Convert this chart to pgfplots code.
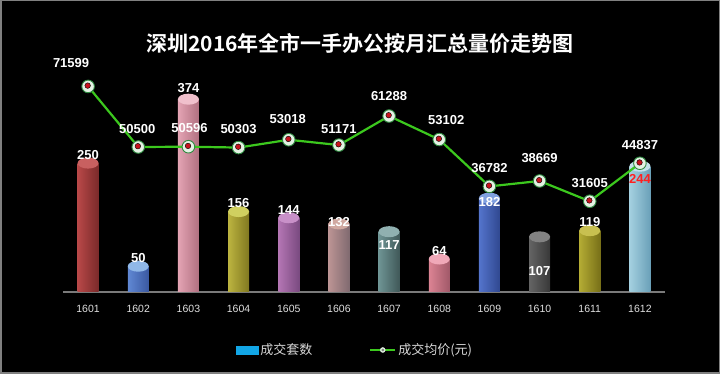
\documentclass[border=0pt]{standalone}
\usepackage{pgfplots}
\pgfplotsset{compat=1.18}
\usepackage{pgfplotstable}
\usepackage{fontspec}
\setmainfont{Liberation Sans}
\newfontfamily\cjk{Noto Sans CJK SC}
\newfontfamily\cjkb{Noto Sans CJK SC Bold}

\definecolor{bordergray}{HTML}{808080}
\definecolor{basegray}{HTML}{7A7A7A}
\definecolor{tickgray}{HTML}{E0E0E0}
\definecolor{leggray}{HTML}{D8D8D8}
\definecolor{legblue}{HTML}{12A6E6}
\definecolor{linegreen}{HTML}{3CC81E}
\definecolor{markedge}{HTML}{2E8A40}
\definecolor{markfill}{HTML}{E4F2E4}
\definecolor{markred}{HTML}{C8141E}
\definecolor{labred}{HTML}{FF2020}

% bar colours: light (left), dark (right), cap
\definecolor{aA}{HTML}{B84848}\definecolor{aB}{HTML}{7A2A2A}\definecolor{aC}{HTML}{C86060}
\definecolor{bA}{HTML}{6088D4}\definecolor{bB}{HTML}{3A58A0}\definecolor{bC}{HTML}{90B8E8}
\definecolor{cA}{HTML}{E4A4B4}\definecolor{cB}{HTML}{B07080}\definecolor{cC}{HTML}{F0C0CC}
\definecolor{dA}{HTML}{BCB440}\definecolor{dB}{HTML}{807820}\definecolor{dC}{HTML}{D0D060}
\definecolor{eA}{HTML}{B476B4}\definecolor{eB}{HTML}{7A4A80}\definecolor{eC}{HTML}{C890C8}
\definecolor{fA}{HTML}{BC9494}\definecolor{fB}{HTML}{806A70}\definecolor{fC}{HTML}{D0A8A0}
\definecolor{gA}{HTML}{6E9494}\definecolor{gB}{HTML}{405858}\definecolor{gC}{HTML}{90B0B0}
\definecolor{hA}{HTML}{DC8494}\definecolor{hB}{HTML}{A05868}\definecolor{hC}{HTML}{F0A8B8}
\definecolor{iA}{HTML}{5474CC}\definecolor{iB}{HTML}{304890}\definecolor{iC}{HTML}{80A0E0}
\definecolor{jA}{HTML}{646464}\definecolor{jB}{HTML}{383838}\definecolor{jC}{HTML}{828282}
\definecolor{kA}{HTML}{B4AC34}\definecolor{kB}{HTML}{787018}\definecolor{kC}{HTML}{C8C050}
\definecolor{lA}{HTML}{A4D0E0}\definecolor{lB}{HTML}{6AA0B8}\definecolor{lC}{HTML}{C4E2EC}

\pgfdeclareplotmark{cap}{%
  \pgfpathellipse{\pgfpointorigin}{\pgfqpoint{10.5pt}{0pt}}{\pgfqpoint{0pt}{5.5pt}}%
  \pgfusepathqfill}

\pgfplotsset{
  cyl/.style n args={3}{ybar, bar width=21pt, bar shift=0pt, draw=none,
    left color=#1, right color=#2,
    mark=cap, mark options={fill=#3, draw=none},
    nodes near coords,
    /pgf/number format/assume math mode=true,
    every node near coord/.append style={font=\bfseries\fontsize{13}{13}\selectfont, text=white}},
}

\newcommand{\cylbar}[6]{%
  \addplot[cyl={#3}{#4}{#5}, every node near coord/.append style={yshift=#6pt}] coordinates {(#1,#2)};}

\pgfplotstableread{
x y dx dy lab
1 71599 -17 5 71599
2 50500 -1 0 50500
3 50596 1 0 50596
4 50303 0 0 50303
5 53018 -1 2 53018
6 51171 0 -2 51171
7 61288 0 2 61288
8 53102 7 1 53102
9 36782 0 0 36782
10 38669 0 5 38669
11 31605 0 0 31605
12 44837 0 0 44837
}\pricetable

\begin{document}
\begin{tikzpicture}
\fill[black] (0pt,0pt) rectangle (720pt,374pt);
\draw[bordergray, line width=1.5pt] (0.75pt,0.75pt) rectangle (719.25pt,373.25pt);
\useasboundingbox (0pt,0pt) rectangle (720pt,374pt);

\node[text=white, font=\cjkb\fontsize{21}{21}\selectfont] at (360pt,331pt) {深圳2016年全市一手办公按月汇总量价走势图};

\begin{axis}[
  at={(63pt,82pt)}, anchor=south west, scale only axis,
  width=602pt, height=232pt,
  xmin=0.5, xmax=12.5, ymin=0, ymax=450,
  axis x line*=bottom, axis y line=none,
  x axis line style={draw=basegray, line width=1.2pt, -},
  xtick={1,...,12},
  xticklabels={1601,1602,1603,1604,1605,1606,1607,1608,1609,1610,1611,1612},
  major tick length=0pt,
  xticklabel style={font=\fontsize{10.5}{12}\selectfont, text=tickgray, yshift=-10pt},
  clip=false,
]
\cylbar{1}{250}{aA}{aB}{aC}{0}
\cylbar{2}{50}{bA}{bB}{bC}{0}
\cylbar{3}{374}{cA}{cB}{cC}{3}
\cylbar{4}{156}{dA}{dB}{dC}{0}
\cylbar{5}{144}{eA}{eB}{eC}{0}
\cylbar{6}{132}{fA}{fB}{fC}{-6}
\cylbar{7}{117}{gA}{gB}{gC}{-21}
\cylbar{8}{64}{hA}{hB}{hC}{0}
\cylbar{9}{182}{iA}{iB}{iC}{-12}
\cylbar{10}{107}{jA}{jB}{jC}{-42}
\cylbar{11}{119}{kA}{kB}{kC}{0}
\addplot[cyl={lA}{lB}{lC}, every node near coord/.append style={yshift=-21pt, text=labred}] coordinates {(12,244)};
\end{axis}

\begin{axis}[
  at={(63pt,82pt)}, anchor=south west, scale only axis,
  width=602pt, height=232pt,
  xmin=0.5, xmax=12.5, ymin=0, ymax=80800,
  hide axis, clip=false,
  legend style={at={(0.485,-0.25)}, anchor=center, draw=none, fill=none,
    text=leggray, font=\cjk\fontsize{13}{15}\selectfont,
    legend columns=2, /tikz/every even column/.append style={column sep=55pt}},
]
\addlegendimage{legend image code/.code={\fill[legblue] (0pt,-4pt) rectangle (22pt,4pt);}}
\addlegendentry{成交套数}
\addlegendimage{legend image code/.code={\draw[linegreen, line width=2pt] (0pt,0pt) -- (25pt,0pt);
  \fill[markfill] (12.5pt,0pt) circle (2.5pt);\fill[gray] (12.5pt,0pt) circle (1.2pt);}}
\addlegendentry{成交均价(元)}

\addplot[linegreen, line width=2.2pt, mark=*, mark size=6.3pt,
  mark options={fill=markfill, draw=markedge, line width=0.9pt},
  visualization depends on={\thisrow{dx} \as \dx},
  visualization depends on={\thisrow{dy} \as \dy},
  point meta=explicit symbolic,
  nodes near coords,
  every node near coord/.append style={anchor=south, text=white,
    font=\bfseries\fontsize{13}{13}\selectfont, xshift=\dx pt, yshift=10pt+\dy pt},
  forget plot] table[x=x, y=y, meta=lab] {\pricetable};
\addplot[only marks, mark=*, mark size=2.8pt,
  mark options={fill=markred, draw=none, xshift=-0.4pt, yshift=0.8pt},
  forget plot] table[x=x, y=y] {\pricetable};
\end{axis}
\end{tikzpicture}
\end{document}
